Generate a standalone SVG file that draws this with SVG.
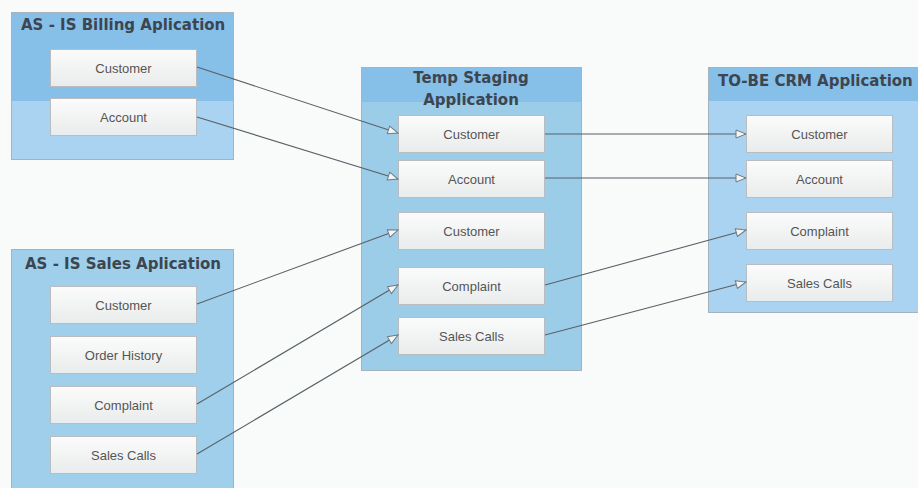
<svg xmlns="http://www.w3.org/2000/svg" width="918" height="488" viewBox="0 0 918 488">
<defs>
<linearGradient id="boxg" x1="0" y1="0" x2="0" y2="1">
<stop offset="0" stop-color="#fbfbfb"/>
<stop offset="1" stop-color="#e9ecec"/>
</linearGradient>
<marker id="arr" viewBox="0 0 12 10" refX="11" refY="5" markerWidth="12" markerHeight="10" markerUnits="userSpaceOnUse" orient="auto">
<path d="M1,1 L11,5 L1,9 Z" fill="#f4f6f6" stroke="#707a80" stroke-width="1"/>
</marker>
</defs>
<style>
.cont{stroke:#a6b3bd;stroke-width:1}
.hdr{fill:#86bfe8}
.body{fill:#a9d3f0}
.box{fill:url(#boxg);stroke:#b9bdbf;stroke-width:1}
.lbl{font-family:"Liberation Sans",Arial,sans-serif;font-size:13px;fill:#555;text-anchor:middle;dominant-baseline:central}
.ttl{font-family:"DejaVu Sans","Open Sans",sans-serif;font-weight:bold;font-size:15px;fill:#3d4550}
.con{fill:none;stroke:#5a6168;stroke-width:1.1;marker-end:url(#arr)}
</style>
<rect width="918" height="488" fill="#f8fbfa"/>

<g id="billing">
<rect x="11.5" y="12.5" width="222" height="147" class="body cont"/>
<rect x="12" y="13" width="221" height="88" class="hdr"/>
<rect x="11.5" y="12.5" width="222" height="147" fill="none" class="cont"/>
<text x="21" y="30" class="ttl">AS - IS Billing Aplication</text>
</g>
<g id="billing-customer"><rect x="50.5" y="49.5" width="146" height="37" class="box"/><text x="123.5" y="68" class="lbl">Customer</text></g>
<g id="billing-account"><rect x="50.5" y="98.5" width="146" height="37" class="box"/><text x="123.5" y="117" class="lbl">Account</text></g>

<g id="sales">
<rect x="11.5" y="249.5" width="222" height="245" fill="#9fcfea" class="cont"/>
<text x="25" y="269" class="ttl" fill="#4a5560">AS - IS Sales Aplication</text>
</g>
<g id="sales-customer"><rect x="50.5" y="286.5" width="146" height="37" class="box"/><text x="123.5" y="305" class="lbl">Customer</text></g>
<g id="sales-order"><rect x="50.5" y="336.5" width="146" height="37" class="box"/><text x="123.5" y="355" class="lbl">Order History</text></g>
<g id="sales-complaint"><rect x="50.5" y="386.5" width="146" height="37" class="box"/><text x="123.5" y="405" class="lbl">Complaint</text></g>
<g id="sales-calls"><rect x="50.5" y="436.5" width="146" height="37" class="box"/><text x="123.5" y="455" class="lbl">Sales Calls</text></g>

<g id="staging">
<rect x="361.5" y="67.5" width="220" height="303" fill="#9ccde8" class="cont"/>
<rect x="362" y="68" width="219" height="34" class="hdr"/>
<rect x="361.5" y="67.5" width="220" height="303" fill="none" class="cont"/>
<text x="471" y="83" class="ttl" text-anchor="middle">Temp Staging</text>
<text x="471" y="105" class="ttl" text-anchor="middle">Application</text>
</g>
<g id="stg-customer"><rect x="398.5" y="115.5" width="146" height="37" class="box"/><text x="471.5" y="134" class="lbl">Customer</text></g>
<g id="stg-account"><rect x="398.5" y="160.5" width="146" height="37" class="box"/><text x="471.5" y="179" class="lbl">Account</text></g>
<g id="stg-customer2"><rect x="398.5" y="212.5" width="146" height="37" class="box"/><text x="471.5" y="231" class="lbl">Customer</text></g>
<g id="stg-complaint"><rect x="398.5" y="267.5" width="146" height="37" class="box"/><text x="471.5" y="286" class="lbl">Complaint</text></g>
<g id="stg-calls"><rect x="398.5" y="317.5" width="146" height="37" class="box"/><text x="471.5" y="336" class="lbl">Sales Calls</text></g>

<g id="crm">
<rect x="708.5" y="67.5" width="215" height="245" class="body cont"/>
<rect x="709" y="68" width="214" height="33" class="hdr"/>
<rect x="708.5" y="67.5" width="215" height="245" fill="none" class="cont"/>
<text x="718" y="86" class="ttl" font-size="15.5">TO-BE CRM Application</text>
</g>
<g id="crm-customer"><rect x="746.5" y="115.5" width="146" height="37" class="box"/><text x="819.5" y="134" class="lbl">Customer</text></g>
<g id="crm-account"><rect x="746.5" y="160.5" width="146" height="37" class="box"/><text x="819.5" y="179" class="lbl">Account</text></g>
<g id="crm-complaint"><rect x="746.5" y="212.5" width="146" height="37" class="box"/><text x="819.5" y="231" class="lbl">Complaint</text></g>
<g id="crm-calls"><rect x="746.5" y="264.5" width="146" height="37" class="box"/><text x="819.5" y="283" class="lbl">Sales Calls</text></g>

<g id="connectors">
<line x1="197" y1="67" x2="398" y2="133" class="con"/>
<line x1="197" y1="117" x2="398" y2="179" class="con"/>
<line x1="197" y1="304" x2="398" y2="230" class="con"/>
<line x1="197" y1="404" x2="398" y2="285" class="con"/>
<line x1="197" y1="454" x2="398" y2="335" class="con"/>
<line x1="545" y1="134" x2="746" y2="134" class="con"/>
<line x1="545" y1="178" x2="746" y2="178" class="con"/>
<line x1="545" y1="285" x2="746" y2="230" class="con"/>
<line x1="545" y1="335" x2="746" y2="282" class="con"/>
</g>
</svg>
